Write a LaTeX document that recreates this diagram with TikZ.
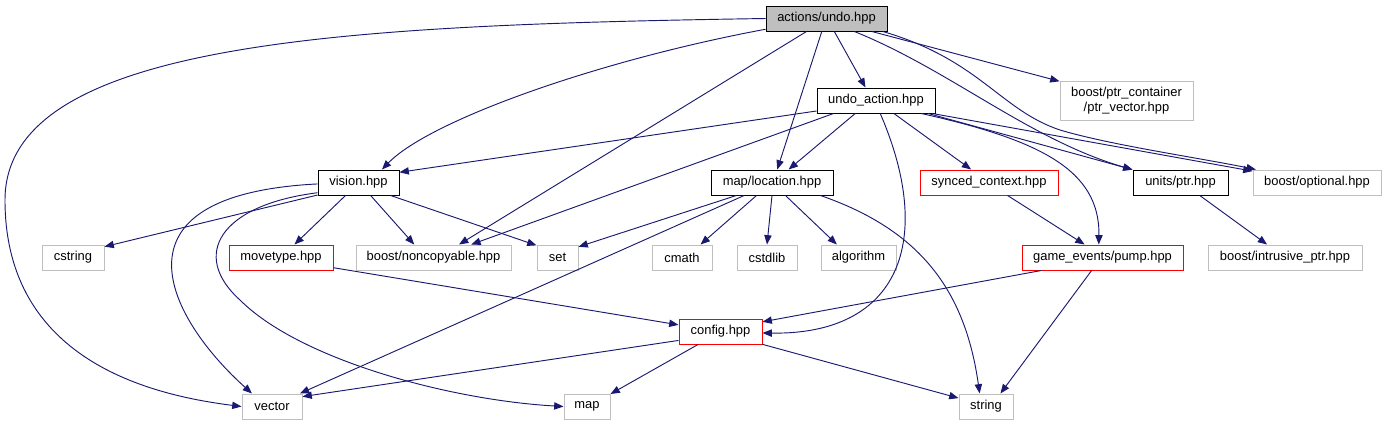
\documentclass[tikz,border=0pt]{standalone}
\usepackage{fontspec}
\setmainfont{Liberation Sans}
\usetikzlibrary{arrows.meta}
\definecolor{edgeblue}{HTML}{191970}
\definecolor{extgray}{HTML}{BFBFBF}

\begin{document}
\begin{tikzpicture}[x=0.75pt,y=-0.75pt,font=\fontsize{9.7}{11.25}\selectfont,>={Triangle[length=7pt,width=5.5pt]},
  box/.style={draw,line width=0.75pt,minimum height=18.75pt,inner sep=0pt,align=center},
  cur/.style={box,fill=extgray,draw=black},
  doc/.style={box,draw=black},
  inc/.style={box,draw=red},
  ext/.style={box,draw=extgray},
  bw/.style={minimum width=#1*0.75pt},
  dep/.style={->,edgeblue,line width=0.7pt}]
  \useasboundingbox (0,0) rectangle (1387,425);
  % top
  \node[cur,bw=121](undo) at (826.5,18.5){actions/undo.hpp};
  % row 1
  \node[doc,bw=118](uact) at (876,100.5){undo\_action.hpp};
  \node[ext,bw=133,minimum height=29.25pt](ptrv) at (1126.5,100.5){boost/ptr\_container\\/ptr\_vector.hpp};
  % row 2
  \node[doc,bw=81](vis) at (358.5,182.5){vision.hpp};
  \node[doc,bw=122](mloc) at (772,182.5){map/location.hpp};
  \node[inc,bw=138](sync) at (989,182.5){synced\_context.hpp};
  \node[doc,bw=95](uptr) at (1180.5,182.5){units/ptr.hpp};
  \node[ext,bw=128](bopt) at (1317,182.5){boost/optional.hpp};
  % row 3
  \node[ext,bw=62](cstr) at (73,257.5){cstring};
  \node[inc,bw=104](mvt) at (281,257.5){movetype.hpp};
  \node[ext,bw=155](ncp) at (433.5,257.5){boost/noncopyable.hpp};
  \node[ext,bw=41](set) at (557.5,257.5){set};
  \node[ext,bw=60](cmth) at (682,257.5){cmath};
  \node[ext,bw=60](cstd) at (767,257.5){cstdlib};
  \node[ext,bw=75](algo) at (858.5,257.5){algorithm};
  \node[inc,bw=161](pump) at (1102.5,257.5){game\_events/pump.hpp};
  \node[ext,bw=154](intr) at (1285,257.5){boost/intrusive\_ptr.hpp};
  % row 4 and 5
  \node[inc,bw=83](cfg) at (720.5,331.5){config.hpp};
  \node[ext,bw=60](vec) at (272,406.5){vector};
  \node[ext,bw=46](map) at (587,406.5){map};
  \node[ext,bw=54](str) at (986,406.5){string};
  % from actions/undo.hpp
  \draw[dep](undo.west) .. controls (350,25) and (5,40) .. (5,200) .. controls (5,360) and (150,395) .. (vec.west);
  \draw[dep](undo.190) .. controls (600,60) and (430,120) .. (vis.29);
  \draw[dep](undo.213)--(ncp.27);\draw[dep](undo.250)--(mloc.68);
  \draw[dep](undo.301)--(uact.129);\draw[dep](undo.344)--(ptrv.164);
  \draw[dep](undo.335) .. controls (950,70) and (1030,140) .. (uptr.165);
  \draw[dep](undo.347) .. controls (980,60) and (1000,110) .. (1060,130) .. controls (1110,145) and (1200,158) .. (bopt.168);
  % from undo_action.hpp
  \draw[dep](uact.190)--(vis.14);\draw[dep](uact.197)--(ncp.19);\draw[dep](uact.212)--(mloc.38);
  \draw[dep](uact.288) .. controls (935,240) and (900,335) .. (cfg.358);
  \draw[dep](uact.324)--(sync.144);
  \draw[dep](uact.344) .. controls (1040,140) and (1100,170) .. (pump.106);
  \draw[dep](uact.346)--(uptr.165);\draw[dep](uact.347)--(bopt.170);
  % from vision.hpp
  \draw[dep](vis.182) .. controls (100,195) and (170,320) .. (vec.147);
  \draw[dep](vis.194) .. controls (220,205) and (190,255) .. (240,300) .. controls (300,360) and (450,400) .. (map.west);
  \draw[dep](vis.197)--(cstr.19);\draw[dep](vis.225)--(mvt.44);
  \draw[dep](vis.313)--(ncp.146);\draw[dep](vis.338)--(set.150);
  % from map/location.hpp
  \draw[dep](mloc.200)--(set.27);\draw[dep](mloc.205)--(vec.25);\draw[dep](mloc.220)--(cmth.35);
  \draw[dep](mloc.south)--(cstd.north);\draw[dep](mloc.316)--(algo.149);
  \draw[dep](mloc.345) .. controls (920,230) and (965,290) .. (str.116);
  % the rest
  \draw[dep](sync.325)--(pump.144);\draw[dep](uptr.326)--(intr.144);
  \draw[dep](pump.192)--(cfg.13);\draw[dep](pump.230)--(str.42);
  \draw[dep](mvt.349)--(cfg.171);
  \draw[dep](cfg.192)--(vec.18);\draw[dep](cfg.210)--(map.28);\draw[dep](cfg.343)--(str.163);
\end{tikzpicture}
\end{document}
